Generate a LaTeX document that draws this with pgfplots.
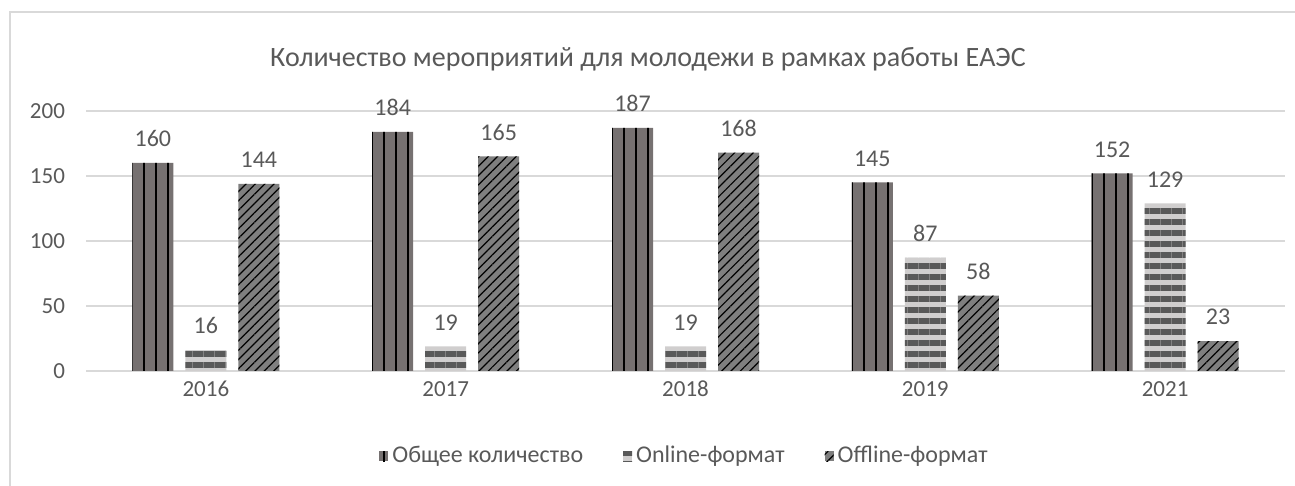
\documentclass[border=0pt]{standalone}
\usepackage{fontspec}
\setmainfont{Carlito}
\usepackage{pgfplots}
\pgfplotsset{compat=1.18}
\usetikzlibrary{patterns.meta}
\definecolor{txt}{HTML}{595959}
\definecolor{gridc}{HTML}{D9D9D9}
\definecolor{sA}{HTML}{767171}
\definecolor{sBlight}{HTML}{D0CECE}
\definecolor{sBdark}{HTML}{595959}
\definecolor{sC}{HTML}{7F7F7F}
\begin{document}
\begin{tikzpicture}
\path[use as bounding box] (0,0) rectangle (647.5pt,243pt);
\draw[gridc, line width=0.75pt] (5pt,-1pt) -- (5pt,237pt) -- (649pt,237pt);
\node[txt, font=\fontsize{14}{16}\selectfont] at (324pt,213.5pt) {Количество мероприятий для молодежи в рамках работы ЕАЭС};
\begin{axis}[
  at={(43pt,57.5pt)}, anchor=south west, scale only axis,
  width=599.5pt, height=130pt,
  ymin=0, ymax=200, ytick={0,50,100,150,200},
  xmin=-0.5, xmax=4.5, xtick={0,1,2,3,4},
  xticklabels={2016,2017,2018,2019,2021},
  ybar=6pt, bar width=20.5pt,
  axis line style={draw=none},
  major tick length=0pt,
  ymajorgrids, grid style={gridc, line width=0.75pt},
  /pgf/number format/assume math mode=true,
  ticklabel style={txt, font=\fontsize{11.5}{13}\selectfont},
  yticklabel style={xshift=-7pt},
  xticklabel style={anchor=north, text height=8pt, text depth=1pt, yshift=-1pt},
  nodes near coords,
  nodes near coords style={txt, font=\fontsize{12}{14}\selectfont, anchor=south, yshift=4.5pt},
  legend columns=3,
  legend style={at={(0.5,-0.327)}, anchor=center, draw=none, fill=none,
    font=\fontsize{12}{14}\selectfont, text=txt,
    /tikz/every even column/.append style={column sep=18pt}},
  legend image code/.code={\path[#1] (0pt,-2.5pt) rectangle (4.5pt,2.5pt);},
]
\addplot[fill=sA, draw=none, postaction={pattern={Lines[angle=90,distance=6pt,line width=1.4pt]}, pattern color=black}]
  coordinates {(0,160) (1,184) (2,187) (3,145) (4,152)};
\addplot[fill=sBlight, draw=none, postaction={pattern={Lines[angle=0,distance=5.5pt,line width=2.6pt]}, pattern color=sBdark}]
  coordinates {(0,16) (1,19) (2,19) (3,87) (4,129)};
\addplot[fill=sC, draw=none, postaction={pattern={Lines[angle=45,distance=3.3pt,line width=0.6pt]}, pattern color=black}]
  coordinates {(0,144) (1,165) (2,168) (3,58) (4,23)};
\legend{Общее количество, Online-формат, Offline-формат}
\end{axis}
\end{tikzpicture}
\end{document}
